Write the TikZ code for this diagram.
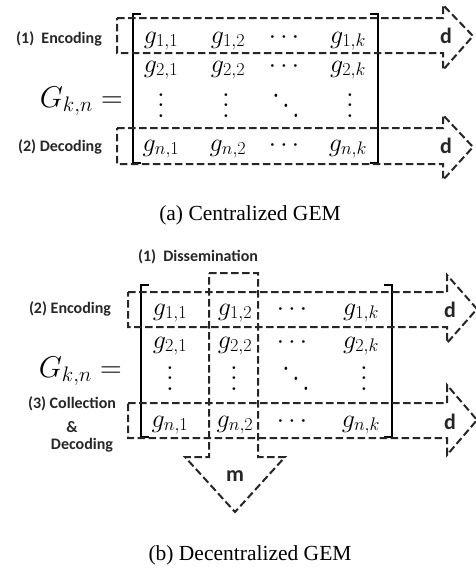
\documentclass[tikz,border=0pt]{standalone}
\usepackage{fix-cm}
\usepackage{graphicx}
\usepackage{fontspec}
\newfontfamily\lblfont{Carlito}
\newfontfamily\capfont{Liberation Serif}
\newcommand\myvdots{\scalebox{2.6}{\vbox{\baselineskip4pt\lineskiplimit0pt\hbox{.}\hbox{.}\hbox{.}}}}
\newcommand\myddots{\scalebox{2.6}[3.2]{\hbox{\raise6pt\hbox{.}\kern1.1pt\raise3pt\hbox{.}\kern1.1pt\hbox{.}}}}
\begin{document}
\begin{tikzpicture}[x=1pt,y=-1pt,
  dsh/.style={draw=black!85, line width=2pt, dash pattern=on 7.5pt off 3.5pt, line join=miter},
  brk/.style={draw=black, line width=1.7pt},
  ent/.style={inner sep=0pt, font=\fontsize{26}{30}\selectfont},
  dts/.style={inner sep=0pt, anchor=base, font=\fontsize{10}{12}\selectfont},
  eqn/.style={inner sep=0pt, font=\fontsize{30}{34}\selectfont},
  lbl/.style={inner sep=0pt, font=\lblfont\bfseries\fontsize{16}{19}\selectfont, text=black!85},
  big/.style={inner sep=0pt, font=\lblfont\bfseries\fontsize{22}{25}\selectfont, text=black!85},
  capt/.style={inner sep=0pt, anchor=base, font=\capfont\fontsize{21.5}{24}\selectfont}]
\useasboundingbox (0,0) rectangle (475,570);

% ---------------- (a) Centralized GEM ----------------
\draw[brk] (141,14) -- (133,14) -- (133,163) -- (141,163);
\draw[brk] (370,14) -- (378,14) -- (378,163) -- (370,163);

\node[ent, anchor=base] (a11) at (161,43) {$g_{1,1}$};
\node[ent, anchor=base] (a12) at (228,43) {$g_{1,2}$};
\node[ent, anchor=base] (a13) at (284,43) {$\cdots$};
\node[ent, anchor=base] (a14) at (348,43) {$g_{1,k}$};
\node[ent, anchor=base] (a21) at (161,72) {$g_{2,1}$};
\node[ent, anchor=base] (a22) at (228,72) {$g_{2,2}$};
\node[ent, anchor=base] (a23) at (284,72) {$\cdots$};
\node[ent, anchor=base] (a24) at (348,72) {$g_{2,k}$};
\node[dts] (a31) at (161,117) {\myvdots};
\node[dts] (a32) at (226,117) {\myvdots};
\node[dts] (a33) at (286,117) {\myddots};
\node[dts] (a34) at (350,117) {\myvdots};
\node[ent, anchor=base] (a41) at (161,151) {$g_{n,1}$};
\node[ent, anchor=base] (a42) at (228,151) {$g_{n,2}$};
\node[ent, anchor=base] (a43) at (284,151) {$\cdots$};
\node[ent, anchor=base] (a44) at (348,151) {$g_{n,k}$};

\node[eqn, anchor=base east] (Ga) at (123,107) {$G_{k,n} =$};

\draw[dsh] (117,18) -- (443,18) -- (443,5) -- (473,36) -- (443,70) -- (443,53) -- (117,53) -- cycle;
\draw[dsh] (117,128) -- (443,128) -- (443,115) -- (473,147) -- (443,180) -- (443,164) -- (117,164) -- cycle;

\node[lbl] (encA) at (59,39) {(1)\hspace{0.45em}Encoding};
\node[lbl] (decA) at (60,147) {(2) Decoding};
\node[big] (dA1) at (446,36) {d};
\node[big] (dA2) at (446,146) {d};

\node[capt] (capA) at (250,220) {(a) Centralized GEM};

% ---------------- (b) Decentralized GEM ----------------
\draw[brk] (149,285) -- (141,285) -- (141,437) -- (149,437);
\draw[brk] (384,285) -- (392,285) -- (392,437) -- (384,437);

\node[ent, anchor=base] (b11) at (170,315) {$g_{1,1}$};
\node[ent, anchor=base] (b12) at (235,315) {$g_{1,2}$};
\node[ent, anchor=base] (b13) at (292,315) {$\cdots$};
\node[ent, anchor=base] (b14) at (361,315) {$g_{1,k}$};
\node[ent, anchor=base] (b21) at (170,348) {$g_{2,1}$};
\node[ent, anchor=base] (b22) at (235,348) {$g_{2,2}$};
\node[ent, anchor=base] (b23) at (292,348) {$\cdots$};
\node[ent, anchor=base] (b24) at (361,348) {$g_{2,k}$};
\node[dts] (b31) at (170,390) {\myvdots};
\node[dts] (b32) at (234,390) {\myvdots};
\node[dts] (b33) at (296,390) {\myddots};
\node[dts] (b34) at (364,390) {\myvdots};
\node[ent, anchor=base] (b41) at (170,427) {$g_{n,1}$};
\node[ent, anchor=base] (b42) at (235,427) {$g_{n,2}$};
\node[ent, anchor=base] (b43) at (292,427) {$\cdots$};
\node[ent, anchor=base] (b44) at (361,427) {$g_{n,k}$};

\node[eqn, anchor=base east] (Gb) at (122,377) {$G_{k,n} =$};

\draw[dsh] (128,292) -- (447,292) -- (447,275) -- (477,309) -- (447,343) -- (447,327) -- (128,327) -- cycle;
\draw[dsh] (128,403) -- (447,403) -- (447,385) -- (477,420) -- (447,455) -- (447,438) -- (128,438) -- cycle;
\draw[dsh] (209,273) -- (258,273) -- (258,457) -- (285,457) -- (235,512) -- (185,457) -- (209,457) -- cycle;

\node[lbl] (dis) at (198,257) {(1)\hspace{0.45em}Dissemination};
\node[lbl] (encB) at (70,309) {(2) Encoding};
\node[lbl] (colB) at (72,404) {(3) Collection};
\node[lbl] (ampB) at (72,427) {\&};
\node[lbl] (decB) at (82,445) {Decoding};
\node[big] (dB1) at (450,310) {d};
\node[big] (dB2) at (450,422) {d};
\node[big] (mB) at (235,476) {m};

\node[capt] (capB) at (250,560) {(b) Decentralized GEM};
\end{tikzpicture}
\end{document}
